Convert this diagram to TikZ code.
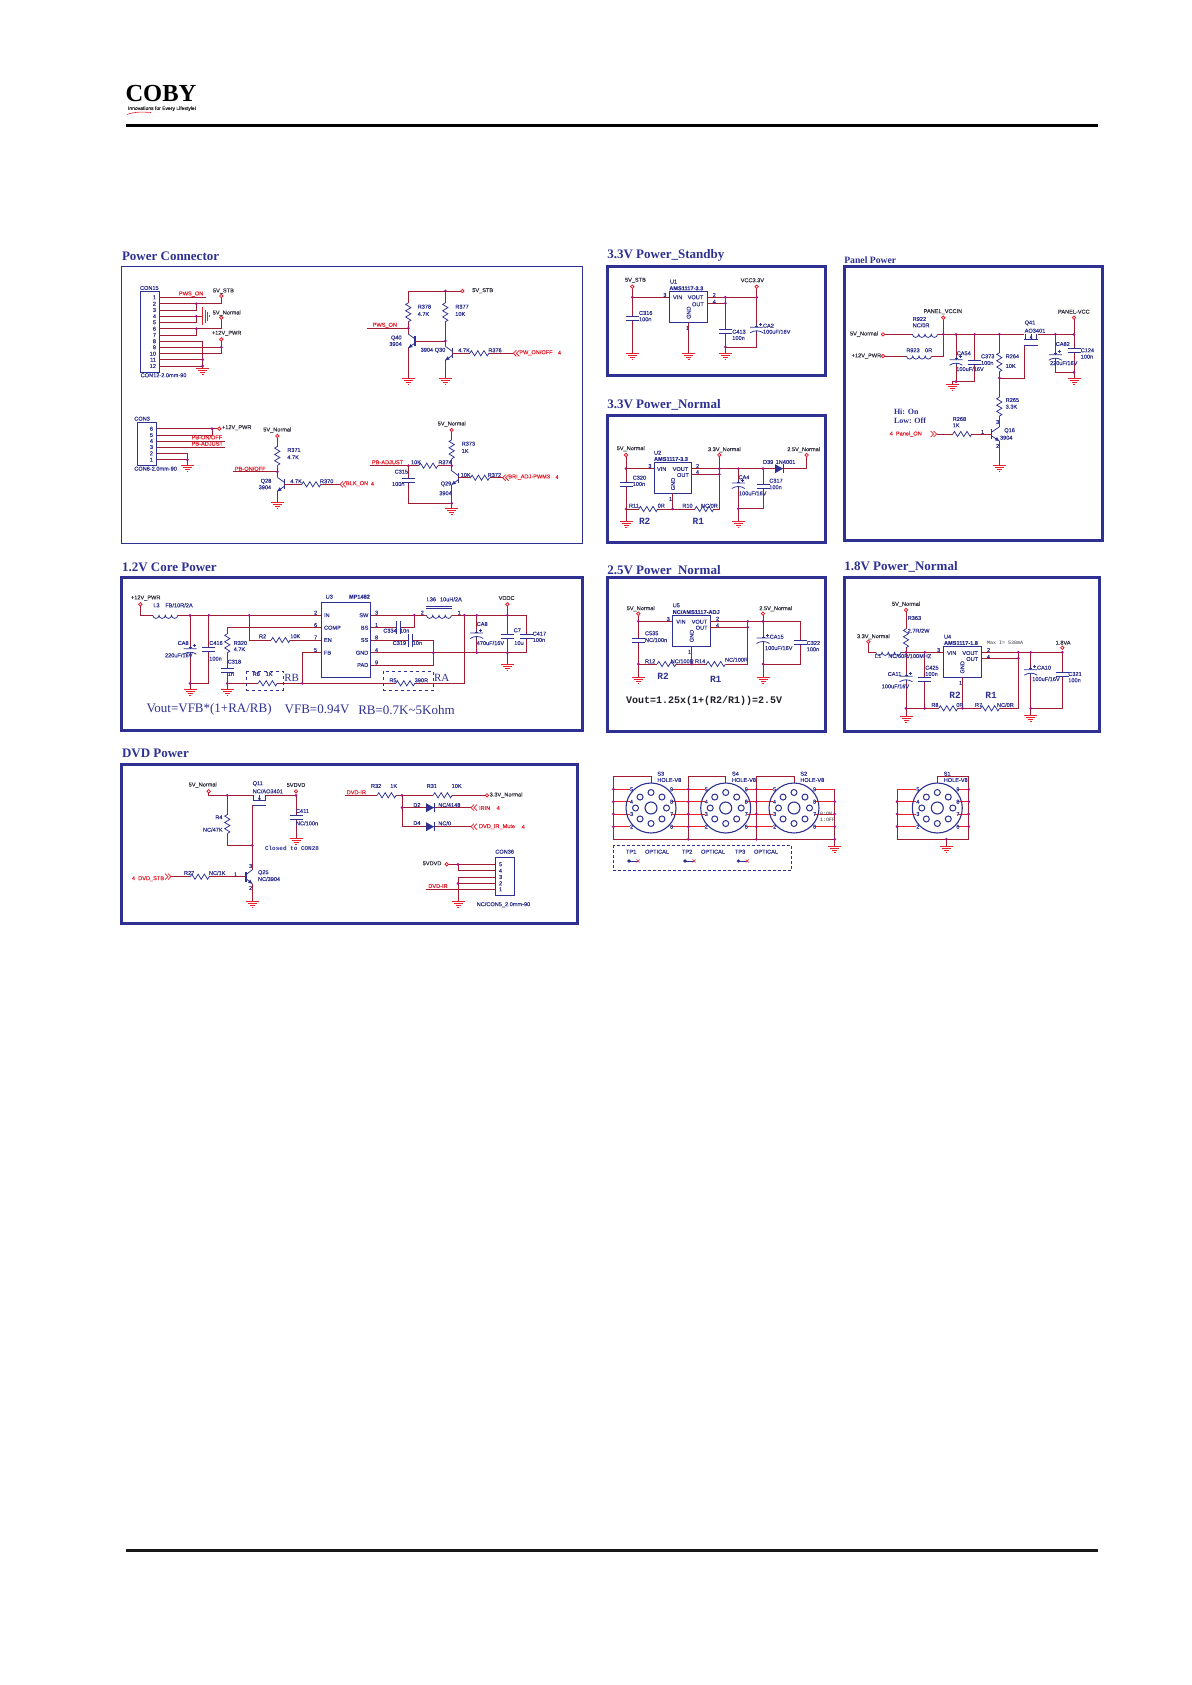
\documentclass[tikz,border=0pt]{standalone}
\usepackage{fontspec}
\usetikzlibrary{calc}
\setmainfont{Liberation Serif}
\setsansfont{Liberation Sans}[FakeBold=0.25]
\setmonofont{Liberation Mono}
\definecolor{wirec}{HTML}{A01C30}
\definecolor{redc}{HTML}{E8202C}
\definecolor{navy}{HTML}{2E3192}
\definecolor{magc}{HTML}{A5108C}
\definecolor{lab}{HTML}{333340}
\newcounter{tn}
\tikzset{
  wire/.style={draw=wirec,line width=.75pt,line join=miter},
  redw/.style={draw=redc,line width=.75pt},
  comp/.style={draw=navy,line width=.75pt},
  frm/.style={draw=navy,line width=3pt},
  txt/.style={anchor=west,inner sep=0pt,outer sep=0pt,font=\sffamily\fontsize{5.6}{6}\selectfont},
}
\newcommand{\TX}[4]{\stepcounter{tn}\node[txt,text=#1] (t\arabic{tn}) at (#2,#3) {#4};}
\newcommand{\Tl}[3]{\TX{lab}{#1}{#2}{#3}}
\newcommand{\Tb}[3]{\TX{navy}{#1}{#2}{#3}}
\newcommand{\Tr}[3]{\TX{redc}{#1}{#2}{#3}}
\newcommand{\Ttl}[3]{\stepcounter{tn}\node[txt,text=navy,font=\bfseries\rmfamily\fontsize{13}{14}\selectfont] (t\arabic{tn}) at (#1,#2) {#3};}
\newcommand{\Tm}[3]{\stepcounter{tn}\node[txt,text=navy,font=\bfseries\ttfamily\fontsize{9.5}{11}\selectfont] (t\arabic{tn}) at (#1,#2) {#3};}
\newcommand{\Ts}[3]{\stepcounter{tn}\node[txt,text=navy,font=\rmfamily\fontsize{11}{12}\selectfont] (t\arabic{tn}) at (#1,#2) {#3};}
\newcommand{\W}[1]{\draw[wire] #1;}
\newcommand{\Jn}[2]{\fill[magc] (#1,#2) circle (1.5);}
\newcommand{\Port}[2]{\draw[draw=redc,fill=white,line width=.8pt] (#1,#2) circle (1.7);}
\newcommand{\Gnd}[2]{\draw[redw] (#1-6.5,#2) -- (#1+6.5,#2) (#1-4.5,#2+2) -- (#1+4.5,#2+2) (#1-2.5,#2+4) -- (#1+2.5,#2+4) (#1-.8,#2+6) -- (#1+.8,#2+6);}
\newcommand{\Hres}[2]{\fill[white] (#1-9.5,#2-1) rectangle (#1+9.5,#2+1);\draw[comp] (#1-9.5,#2) -- ++(1.6,-2.6) -- ++(3.2,5.2) -- ++(3.2,-5.2) -- ++(3,5.2) -- ++(3.2,-5.2) -- ++(3.2,5.2) -- (#1+9.5,#2);}
\newcommand{\Vres}[2]{\fill[white] (#1-1,#2-9.5) rectangle (#1+1,#2+9.5);\draw[comp] (#1,#2-9.5) -- ++(-2.6,1.6) -- ++(5.2,3.2) -- ++(-5.2,3.2) -- ++(5.2,3) -- ++(-5.2,3.2) -- ++(5.2,3.2) -- (#1,#2+9.5);}
\newcommand{\Hind}[2]{\fill[white] (#1-12.5,#2-1) rectangle (#1+12.5,#2+1);\draw[comp] (#1-12.5,#2) arc[start angle=180,end angle=0,radius=3.125] arc[start angle=180,end angle=0,radius=3.125] arc[start angle=180,end angle=0,radius=3.125] arc[start angle=180,end angle=0,radius=3.125];}
\newcommand{\Vcap}[2]{\fill[white] (#1-1,#2-2) rectangle (#1+1,#2+2);\draw[comp] (#1-6.5,#2-2) -- (#1+6.5,#2-2) (#1-6.5,#2+2) -- (#1+6.5,#2+2);}
\newcommand{\Hcap}[2]{\fill[white] (#1-2,#2-1) rectangle (#1+2,#2+1);\draw[comp] (#1-2,#2-6.5) -- (#1-2,#2+6.5) (#1+2,#2-6.5) -- (#1+2,#2+6.5);}
\newcommand{\Pcap}[2]{\fill[white] (#1-1,#2-2) rectangle (#1+1,#2+2);\draw[comp] (#1-6.5,#2-2) -- (#1+6.5,#2-2) (#1-6.5,#2+3.5) .. controls (#1-2.5,#2+.8) and (#1+2.5,#2+.8) .. (#1+6.5,#2+3.5);\draw[comp,line width=1.1pt] (#1-1.5,#2-2.8) -- (#1+1.5,#2-2.8);\draw[comp] (#1,#2-5) -- (#1,#2-2) (#1,#2+1.5)--(#1,#2+4);\draw[comp,line width=.5pt] (#1+2.5,#2-5) -- (#1+5.5,#2-5) (#1+4,#2-6.5) -- (#1+4,#2-3.5);}
% npn: bar x, y, wire x
\newcommand{\Npn}[3]{\draw[comp,line width=1.2pt] (#1,#2-5) -- (#1,#2+5);\draw[comp] (#1,#2-2) -- (#3,#2-7) (#1,#2+2) -- (#3,#2+7);\fill[navy] (#3,#2+7) -- ($(#3,#2+7)!4.5pt!25:(#1,#2+2)$) -- ($(#3,#2+7)!4.5pt!-25:(#1,#2+2)$) -- cycle;}
\newcommand{\Dio}[2]{\fill[navy] (#1-4,#2-4.5) -- (#1+4,#2) -- (#1-4,#2+4.5) -- cycle;\draw[comp] (#1+4,#2-4.5) -- (#1+4,#2+4.5);}
\newcommand{\ChL}[2]{\draw[redw] (#1+3,#2-3) -- (#1,#2) -- (#1+3,#2+3) (#1+6,#2-3) -- (#1+3,#2) -- (#1+6,#2+3);}
\newcommand{\ChR}[2]{\draw[redw] (#1-3,#2-3) -- (#1,#2) -- (#1-3,#2+3) (#1-6,#2-3) -- (#1-3,#2) -- (#1-6,#2+3);}
\newcommand{\Fet}[4]{\draw[comp,line width=1pt] (#1,#4) -- (#2,#4) (#1,#3+5.5) -- (#2,#3+5.5);\draw[comp] (#1+1,#3) -- (#1+1,#3+5.5) (#2-1,#3) -- (#2-1,#3+5.5) ({(#1+#2)/2},#3) -- ({(#1+#2)/2},#3+5.5);\fill[navy] ({(#1+#2)/2},#3+1) -- ++(-1.5,3) -- ++(3,0) -- cycle;}
\newcommand{\Disc}[1]{\draw[comp,line width=1.1pt] (#1,808) circle (25);\draw[comp,line width=1.1pt] (#1,808) circle (6);\foreach \a in {0,45,...,315}{\draw[comp,line width=1pt] ($(#1,808)+(\a:15.5)$) circle (3);}}
\begin{document}
\begin{tikzpicture}[x=1pt,y=-1pt]
\useasboundingbox (0,0) rectangle (1191,1685);
\fill[white] (0,0) rectangle (1191,1685);
% header
\node[txt,text=black,font=\bfseries\rmfamily\fontsize{24.5}{24}\selectfont] (logo) at (125.5,93.5) {COBY};
\node[txt,text=black!85,font=\sffamily\fontsize{5}{5}\selectfont] (tag) at (128,108.7) {Innovations for Every Lifestyle!};
\draw[redc,line width=.6pt] (127,114.5) .. controls (135,111.5) and (143,112) .. (151,112.5);
\draw[black,line width=3pt] (126,126) -- (1098,126);
\draw[black!90,line width=3pt] (126,1550.3) -- (1098,1550.3);
% ==================== Power connector
\Ttl{122}{256}{Power Connector}
\draw[navy,line width=1pt] (121.3,266.7) rectangle (582.7,543);
\draw[comp] (140.7,291.7) rectangle (159.3,372.3);
\Tb{140}{288}{CON15}
\foreach \n/\y in {1/297.3,2/303.7,3/310,4/316.3,5/322.3,6/328.7,7/335,8/341.3,9/347.3,10/353.7,11/359.7,12/366}{\stepcounter{tn}\node[txt,anchor=east,text=navy] (t\arabic{tn}) at (156,\y) {\n};}
\W{(159.3,297.3)--(206,297.3)}
\W{(159.3,303.7)--(221.3,303.7)--(221.3,296)}
\W{(159.3,310)--(196.3,310)--(196.3,303.7)}
\W{(159.3,316.3)--(202.7,316.3)}
\W{(159.3,322.3)--(196.3,322.3)--(196.3,316.3)}
\W{(159.3,328.7)--(221.3,328.7)--(221.3,317.7)}
\W{(159.3,335)--(196.3,335)--(196.3,328.7)}
\W{(159.3,341.3)--(202.7,341.3)--(202.7,368.7)}
\W{(159.3,347.3)--(221.3,347.3)--(221.3,339.3)}
\W{(159.3,353.7)--(221.3,353.7)--(221.3,347.3)}
\W{(159.3,359.7)--(202.7,359.7)}
\W{(159.3,366)--(202.7,366)}
\draw[redw] (202.7,307.5)--(202.7,325) (205.2,310)--(205.2,322.5) (207.5,312)--(207.5,320.5) (209.5,315)--(209.5,317.5);
\Port{221.3}{296}\Port{221.3}{317.7}\Port{221.3}{339.3}
\Jn{196.3}{303.7}\Jn{196.3}{316.3}\Jn{196.3}{328.7}\Jn{221.3}{347.3}\Jn{202.7}{359.7}\Jn{202.7}{366}
\Gnd{202.7}{368.7}
\Tr{179}{294}{PWS\_ON}
\Tl{213}{291}{5V\_STB}\Tl{212.7}{313}{5V\_Normal}\Tl{212}{333.3}{+12V\_PWR}
\Tb{140.7}{375.3}{CON12-2.0mm-90}
% Q40 Q30
\W{(408.3,291)--(462.3,291)}\Port{462.3}{291}\Jn{445.3}{291}
\W{(408.3,291)--(408.3,334)}\W{(408.3,348)--(408.3,378.3)}
\W{(445.3,291)--(445.3,346.3)}\W{(445.3,360.3)--(445.3,378.3)}
\Vres{408.3}{312.3}\Vres{445.3}{312.3}
\W{(367.3,328.3)--(408.3,328.3)}\Jn{408.3}{328.3}
\Npn{415}{341}{408.3}
\W{(415,341)--(445.3,341)}\Jn{445.3}{341}
\Npn{452.3}{353.3}{445.3}
\W{(452.3,353.3)--(513.3,353.3)}\Hres{479.3}{353.3}\ChL{513.3}{353.3}
\Gnd{408.3}{378.3}\Gnd{445.3}{378.3}
\Tl{472.3}{290.7}{5V\_STB}
\Tb{417.7}{306.7}{R378}\Tb{417.7}{314}{4.7K}\Tb{455.3}{306.7}{R377}\Tb{455.3}{314}{10K}
\Tr{372.7}{325.3}{PWS\_ON}
\Tb{391}{338}{Q40}\Tb{389.3}{344}{3904}\Tb{420.7}{350.3}{3904 Q30}
\Tb{458.3}{350.3}{4.7K}\Tb{488.3}{350.3}{R376}
\Tr{519.3}{352.7}{PW\_ON/OFF}\Tr{558}{352.7}{4}
% CON3
\draw[comp] (137.3,422.3) rectangle (156.7,465.3);
\Tb{134.3}{418.7}{CON3}
\foreach \n/\y in {6/428.7,5/435,4/441,3/447,2/453.3,1/459.7}{\stepcounter{tn}\node[txt,anchor=east,text=navy] (t\arabic{tn}) at (153,\y) {\n};}
\W{(156.7,428.7)--(219.3,428.7)}\W{(156.7,435)--(212,435)--(212,428.7)}
\W{(156.7,441)--(225,441)}\W{(156.7,447)--(225,447)}
\W{(156.7,453.3)--(187.3,453.3)--(187.3,465.3)}\W{(156.7,459.7)--(187.3,459.7)}
\Jn{212}{428.7}\Jn{187.3}{459.7}\Port{219.3}{428.7}\Gnd{187.3}{465.3}
\Tl{222}{427.7}{+12V\_PWR}\Tr{191.7}{437.3}{PB-ON/OFF}\Tr{191.7}{443.7}{PB-ADJUST}
\Tb{134.3}{468.7}{CON6-2.0mm-90}
% Q28
\W{(277.3,436)--(277.3,477.3)}\W{(277.3,491.3)--(277.3,502.7)}\Vres{277.3}{456}\Port{277.3}{436}
\W{(233.3,471.7)--(277.3,471.7)}\Jn{277.3}{471.7}
\Npn{284.3}{484.3}{277.3}
\W{(284.3,484.3)--(340,484.3)}\Hres{311.3}{484.3}\ChL{340}{484.3}\Gnd{277.3}{502.7}
\Tl{263.3}{430}{5V\_Normal}\Tb{287.3}{450}{R371}\Tb{287.3}{457.3}{4.7K}
\Tr{235}{468.7}{PB-ON/OFF}\Tb{260.7}{481.3}{Q28}\Tb{258.7}{487.3}{3904}
\Tb{290.3}{481.3}{4.7K}\Tb{320}{481.3}{R370}\Tr{346}{483.7}{BLK\_ON}\Tr{371}{483.7}{4}
% Q29
\W{(451.7,430)--(451.7,470.7)}\W{(451.7,484.7)--(451.7,508.7)}\Vres{451.7}{449.3}\Port{451.7}{430}
\W{(370.3,465.7)--(451.7,465.7)}\Hres{428.3}{465.7}\Jn{408.3}{465.7}\Jn{451.7}{465.7}
\W{(408.3,465.7)--(408.3,503.3)--(451.7,503.3)}\Vcap{408.3}{480}\Jn{451.7}{503.3}
\Npn{458.3}{477.7}{451.7}
\W{(458.3,477.7)--(502.7,477.7)}\Hres{480}{477.7}\ChL{502.7}{477.7}\Gnd{451.7}{508.7}
\Tl{437.7}{424}{5V\_Normal}\Tb{461.7}{443.7}{R373}\Tb{461.7}{451}{1K}
\Tr{372}{462.3}{PB-ADJUST}\Tb{411}{462.3}{10K}\Tb{438.3}{462.3}{R374}
\Tb{394.7}{471.7}{C315}\Tb{392}{484}{100n}\Tb{460.7}{475}{10K}\Tb{487.7}{475}{R372}
\Tb{440.7}{484}{Q29}\Tb{439.3}{493.3}{3904}\Tr{508.3}{477}{BRI\_ADJ-PWM3}\Tr{555.5}{477}{4}
% ==================== 3.3V standby
\Ttl{607.3}{255.7}{3.3V Power\_Standby}
\draw[frm] (607.5,266.5) rectangle (825.5,375.3);
\W{(632.3,286.7)--(632.3,353.3)}\Vcap{632.3}{318}\Port{632.3}{286.7}\Jn{632.3}{297.3}\Gnd{632.3}{353.3}
\W{(632.3,297.3)--(669.3,297.3)}
\draw[comp] (669.3,291.7) rectangle (707.7,322.7);
\W{(688.7,322.7)--(688.7,353.3)}\Gnd{688.7}{353.3}
\W{(707.7,297.3)--(756.7,297.3)}\W{(707.7,303.3)--(725.3,303.3)}
\W{(725.3,297.3)--(725.3,353.3)}\Vcap{725.3}{331.7}\Gnd{725.3}{353.3}
\W{(725.3,347)--(756.7,347)--(756.7,286.7)}\Pcap{756.7}{329.3}
\Jn{725.3}{297.3}\Jn{725.3}{303.3}\Jn{756.7}{297.3}\Jn{725.3}{347}\Port{756.7}{286.7}
\Tl{625}{280.3}{5V\_STB}\Tb{639}{313}{C316}\Tb{639}{319.3}{100n}\Tb{663.3}{295}{3}
\Tb{670}{281.7}{U1}\TX{navy}{669.3}{288.3}{\bfseries AMS1117-3.3}
\Tb{673}{297.3}{VIN}\Tb{687.7}{297.3}{VOUT}\Tb{692}{304.3}{OUT}
\stepcounter{tn}\node[txt,anchor=center,rotate=90,text=navy] (t\arabic{tn}) at (688.7,312.7) {GND};
\Tb{686}{328}{1}\Tb{712.7}{295}{2}\Tb{712.7}{301.7}{4}
\Tl{740.7}{280.3}{VCC3.3V}\Tb{732.3}{331.7}{C413}\Tb{732.3}{338}{100n}
\Tb{763}{325.7}{CA2}\Tb{763}{331.7}{100uF/16V}
% ==================== 3.3V normal
\Ttl{607.3}{405}{3.3V Power\_Normal}
\draw[frm] (607.5,415.5) rectangle (825.5,542.5);
\W{(626,455)--(626,521.7)}\Vcap{626}{484}\Port{626}{455}\Jn{626}{468.7}\Jn{626}{509}\Gnd{626}{521.7}
\W{(626,468.7)--(654.3,468.7)}
\draw[comp] (654.3,462.7) rectangle (691.7,493.3);
\W{(672.7,493.3)--(672.7,509)}
\W{(626,509)--(719.3,509)--(719.3,455)}\Hres{648.3}{509}\Hres{704.3}{509}\Jn{672.7}{509}
\W{(691.7,468.7)--(806.7,468.7)--(806.7,455)}\W{(691.7,474.3)--(719.3,474.3)}
\W{(738.3,468.7)--(738.3,521.7)}\Pcap{738.3}{485}
\W{(763,468.7)--(763,508.7)--(738.3,508.7)}\Vcap{763}{486.7}
\Dio{779}{468.7}
\Jn{719.3}{468.7}\Jn{719.3}{474.3}\Jn{738.3}{468.7}\Jn{763}{468.7}\Jn{738.3}{508.7}
\Port{719.3}{455}\Port{806.7}{455}\Gnd{738.3}{521.7}
\Tl{616.7}{448.7}{5V\_Normal}\Tb{632.7}{477.7}{C320}\Tb{632.7}{484}{100n}
\Tb{629}{505.7}{R11}\Tb{657.7}{505.7}{0R}\Tb{682.3}{505.7}{R10}\Tb{701}{505.7}{NC/0R}
\Tb{648.3}{466}{3}\Tb{654}{452.7}{U2}\TX{navy}{654}{459}{\bfseries AMS1117-3.3}
\Tb{657}{469}{VIN}\Tb{672.7}{469}{VOUT}\Tb{677}{475}{OUT}
\stepcounter{tn}\node[txt,anchor=center,rotate=90,text=navy] (t\arabic{tn}) at (673,484) {GND};
\Tb{669}{499}{1}\Tb{696}{466}{2}\Tb{696}{472}{4}
\Tl{708}{449.7}{3.3V\_Normal}\Tl{787.3}{449.7}{2.5V\_Normal}
\Tb{763}{462}{D39}\Tb{775.7}{462}{1N4001}
\Tb{738.5}{477.3}{CA4}\Tb{739}{493.3}{100uF/16V}\Tb{769.3}{480.7}{C317}\Tb{769.3}{487.3}{100n}
\Tm{639}{521}{R2}\Tm{692.7}{521}{R1}
% ==================== Panel power
\stepcounter{tn}\node[txt,text=navy,font=\bfseries\rmfamily\fontsize{9.7}{10}\selectfont] (t\arabic{tn}) at (844.3,260) {Panel Power};
\draw[frm] (844.5,266.5) rectangle (1102.5,540);
\W{(883,334.3)--(1024.3,334.3)}\W{(1037.7,334.3)--(1074,334.3)--(1074,317.7)}
\W{(883,356)--(943.3,356)--(943.3,317.7)}
\Hind{925}{334.3}\Hind{919}{356}
\W{(956,334.3)--(956,381.7)}\Pcap{956}{361.7}
\W{(974.7,334.3)--(974.7,381.7)--(952.3,381.7)--(952.3,384)}\Vcap{974.7}{362.7}\Gnd{952.3}{384}
\W{(999.3,334.3)--(999.3,426.7)}\Vres{999.3}{362.3}\Vres{999.3}{406.7}
\W{(999.3,378)--(1024.3,378)--(1024.3,345)}\Fet{1024.3}{1037.7}{334.3}{345}
\Npn{991.7}{434}{999.3}
\W{(999.3,441)--(999.3,465.7)}\Gnd{999.3}{465.7}
\W{(936.7,434)--(991.7,434)}\Hres{962.3}{434}\ChR{936.7}{434}
\W{(1055.3,334.3)--(1055.3,372.3)--(1074,372.3)}\Pcap{1055.3}{356.7}
\W{(1074,334.3)--(1074,378.3)}\Vcap{1074}{350}\Gnd{1074}{378.3}
\foreach \x in {943.3,956,974.7,999.3,1055.3,1074}{\Jn{\x}{334.3}}
\Jn{956}{381.7}\Jn{999.3}{378}\Jn{1074}{372.3}
\Port{883}{334.3}\Port{883}{356}\Port{943.3}{317.7}\Port{1074}{317.7}
\Tl{923.7}{311.7}{PANEL\_VCCIN}\Tl{1058}{311.7}{PANEL-VCC}
\Tl{850}{334}{5V\_Normal}\Tl{851.7}{356}{+12V\_PWR}
\Tb{912.7}{319}{R922}\Tb{912.7}{325.3}{NC/0R}\Tb{906.3}{350.3}{R923}\Tb{925}{350.3}{0R}
\Tb{956.7}{353.3}{CA54}\Tb{956.3}{369}{100uF/16V}\Tb{981}{356.3}{C373}\Tb{981}{363}{100n}
\Tb{1005.7}{356.3}{R264}\Tb{1005.7}{366}{10K}\Tb{1005.7}{400}{R265}\Tb{1005.7}{406.7}{3.3K}
\Tb{1024.7}{323}{Q41}\Tb{1024.7}{330.7}{AO3401}
\Tb{952.7}{419}{R268}\Tb{952.7}{425.3}{1K}\Tb{981}{432}{1}\Tb{1004.3}{430.7}{Q16}\Tb{1000}{437.7}{3904}
\Tb{996}{422}{3}\Tb{996}{446}{2}
\Tb{1055.7}{344}{CA82}\Tb{1050}{363}{220uF/16V}\Tb{1080.7}{350.3}{C124}\Tb{1080.7}{356.7}{100n}
\Tr{889.7}{434}{4\ \ Panel\_ON}
\stepcounter{tn}\node[txt,text=navy,font=\bfseries\rmfamily\fontsize{8}{9}\selectfont] (t\arabic{tn}) at (894,411.3) {Hi: On};
\stepcounter{tn}\node[txt,text=navy,font=\bfseries\rmfamily\fontsize{8}{9}\selectfont] (t\arabic{tn}) at (894,420.7) {Low: Off};
% ==================== 1.2V core
\Ttl{122}{567}{1.2V Core Power}
\draw[frm] (121.5,577.5) rectangle (582.5,730.5);
\W{(140.3,604.3)--(140.3,615.3)--(321.3,615.3)}\Hind{165.3}{615.3}
\draw[comp] (321.3,602.3) rectangle (370.7,677.3);
\W{(190,615.3)--(190,689.3)}\Pcap{190}{650.7}\W{(208.7,615.3)--(208.7,683.3)--(190,683.3)}\Vcap{208.7}{649.7}
\W{(321.3,627.7)--(227.3,627.7)--(227.3,689.3)}\Vres{227.3}{643.3}\Vcap{227.3}{670}
\W{(249.3,615.3)--(249.3,640)--(321.3,640)}\Hres{280.7}{640}
\W{(227.3,683.3)--(464.3,683.3)--(464.3,615.3)}\Hres{267.7}{683.3}\Hres{405.3}{683.3}
\W{(302.3,683.3)--(302.3,652.7)--(321.3,652.7)}
\draw[navy,line width=.8pt,dashed] (246.7,671.3) rectangle (283.3,690);
\draw[navy,line width=.8pt,dashed] (383.3,671.3) rectangle (433.3,690);
\W{(370.7,615.3)--(526.3,615.3)--(526.3,652.7)--(370.7,652.7)}\Hind{439}{615.3}
\draw[comp,line width=1pt] (426,606.5)--(452,606.5) (426,608.3)--(452,608.3);
\W{(370.7,627.7)--(414.3,627.7)--(414.3,615.3)}\Hcap{398.3}{627.7}
\W{(370.7,640)--(433.3,640)--(433.3,665)--(370.7,665)}\Hcap{410}{640}
\W{(476.7,615.3)--(476.7,652.7)}\Pcap{476.7}{635}
\W{(507.3,604.3)--(507.3,664.3)}\Vcap{507.3}{636}\Gnd{507.3}{664.3}
\Vcap{526.3}{636}
\foreach \a/\b in {190/615.3,208.7/615.3,249.3/615.3,190/683.3,227.3/683.3,302.3/683.3,414.3/615.3,464.3/615.3,476.7/615.3,507.3/615.3,433.3/652.7,476.7/652.7,507.3/652.7}{\Jn{\a}{\b}}
\Port{140.3}{604.3}\Port{507.3}{604.3}\Gnd{190}{689.3}\Gnd{227.3}{689.3}
\Tl{131}{598}{+12V\_PWR}\Tb{153.3}{605.3}{L3}\Tb{165.3}{605.3}{FB/10R/2A}
\Tb{325.7}{596.7}{U3}\TX{navy}{349}{596.7}{\bfseries MP1482}
\Tb{324}{615.3}{IN}\Tb{324}{627.7}{COMP}\Tb{324}{640}{EN}\Tb{324}{652.7}{FB}
\foreach \s/\y in {SW/615.3,BS/627.7,SS/640,GND/652.7,PAD/665}{\stepcounter{tn}\node[txt,anchor=east,text=navy] (t\arabic{tn}) at (368.3,\y) {\s};}
\Tb{314}{612.7}{2}\Tb{314}{625}{6}\Tb{314}{637.5}{7}\Tb{314}{650}{5}
\Tb{375}{612.7}{3}\Tb{375}{625}{1}\Tb{375}{637.5}{8}\Tb{375}{650}{4}\Tb{375}{662.5}{9}
\Tb{177.7}{643}{CA8}\Tb{165}{655.3}{220uF/16V}\Tb{209.3}{643}{C416}\Tb{209.3}{658.7}{100n}
\Tb{233.7}{643}{R320}\Tb{233.7}{649.3}{4.7K}\Tb{227.7}{661.7}{C318}\Tb{227.7}{674}{1n}
\Tb{259}{636.3}{R2}\Tb{290.3}{636.3}{10K}\Tb{252.7}{674}{R8}\Tb{265.7}{674}{1K}
\Tb{389.3}{680.3}{R5}\Tb{414.7}{680.3}{390R}
\Ts{284.3}{677.7}{RB}\Ts{434}{677.7}{RA}
\Tb{420.7}{612.7}{2}\Tb{457.7}{612.7}{1}\Tb{426.7}{599.3}{L36}\Tb{440}{599.3}{10uH/2A}
\Tb{383.3}{630.7}{C334}\Tb{400}{630.7}{10n}\Tb{392.7}{643}{C319}\Tb{412.7}{643}{10n}
\Tb{476.7}{624}{CA8}\Tb{476.7}{643}{470uF/16V}\Tb{513.7}{630.3}{C7}\Tb{514.3}{643}{10u}
\Tb{532.7}{633.7}{C417}\Tb{532.7}{640}{100n}\Tl{498.7}{598}{VDDC}
\stepcounter{tn}\node[txt,text=navy,font=\rmfamily\fontsize{13}{14}\selectfont] (t\arabic{tn}) at (146.7,709.7) {Vout=VFB*(1+RA/RB)};
\stepcounter{tn}\node[txt,text=navy,font=\rmfamily\fontsize{13}{14}\selectfont] (t\arabic{tn}) at (284.7,709.7) {VFB=0.94V};
\stepcounter{tn}\node[txt,text=navy,font=\rmfamily\fontsize{13}{14}\selectfont] (t\arabic{tn}) at (358.3,709.7) {RB=0.7K\textasciitilde 5Kohm};
% ==================== DVD
\Ttl{122}{753.3}{DVD Power}
\draw[frm] (121.5,764.5) rectangle (577.5,923);
\W{(208.7,791.3)--(208.7,795.3)--(252.7,795.3)}\W{(266,795.3)--(296,795.3)--(296,838.7)}\Fet{252.7}{266}{795.3}{805}
\W{(252.3,805)--(252.3,870)}\W{(227.3,795.3)--(227.3,845.3)--(252.3,845.3)}\Vres{227.3}{824}
\Vcap{296}{817.3}\Npn{246}{876.7}{252.3}
\W{(252.3,883.7)--(252.3,901)}\Gnd{252.3}{901}\Gnd{296}{838.7}
\W{(171,876.7)--(246,876.7)}\Hres{199.7}{876.7}\ChR{171}{876.7}
\Jn{227.3}{795.3}\Jn{252.3}{845.3}\Jn{296}{795.3}\Port{208.7}{791.3}\Port{296}{791.3}
\Tl{188.7}{785}{5V\_Normal}\Tb{252.7}{783.7}{Q11}\Tb{252.7}{791.3}{NC/AO3401}\Tl{286.7}{785}{5VDVD}
\Tb{215.3}{817.3}{R4}\Tb{203}{829.7}{NC/47K}\Tb{296}{811}{C411}\Tb{296}{823.3}{NC/100n}
\stepcounter{tn}\node[txt,text=navy,font=\ttfamily\bfseries\fontsize{6}{7}\selectfont] (t\arabic{tn}) at (265,848.7) {Closed to CON28};
\Tb{234}{874.3}{1}\Tb{184}{873}{R27}\Tb{209}{873}{NC/1K}\Tb{258}{872.7}{Q25}\Tb{258}{879}{NC/3904}
\Tb{249}{866}{3}\Tb{249}{888}{2}\Tr{132}{878.7}{4\ \ DVD\_STB}
\W{(345.3,795.3)--(487,795.3)}\Hres{386.7}{795.3}\Hres{442.7}{795.3}
\W{(402,795.3)--(402,826.7)--(471,826.7)}\W{(402,807.7)--(471,807.7)}
\Dio{430}{807.7}\Dio{430}{826.7}\ChL{471}{807.7}\ChL{471}{826.7}
\Jn{402}{795.3}\Jn{402}{807.7}\Port{487}{795.3}
\Tr{346.7}{792.3}{DVD-IR}\Tb{371}{786}{R32}\Tb{390.3}{786}{1K}\Tb{426.7}{786}{R31}\Tb{451.7}{786}{10K}\Tl{489.7}{795}{3.3V\_Normal}
\Tb{413.3}{805}{D2}\Tb{438.3}{805}{NC/4148}\Tr{479}{808}{IRIN}\Tr{496.7}{808}{4}
\Tb{413.3}{823}{D4}\Tb{438.3}{823.3}{NC/0}\Tr{479}{826.7}{DVD\_IR\_Mute}\Tr{521.7}{826.7}{4}
\draw[comp] (495.3,857.3) rectangle (514.3,895.3);
\foreach \n/\y in {5/864.3,4/870.7,3/877,2/883.3,1/889.3}{\stepcounter{tn}\node[txt,text=navy] (t\arabic{tn}) at (499,\y) {\n};}
\W{(446.7,864.3)--(495.3,864.3)}\W{(458,864.3)--(458,870.7)--(495.3,870.7)}
\W{(495.3,877)--(458,877)--(458,901)}\W{(458,883.3)--(495.3,883.3)}\W{(426,889.3)--(495.3,889.3)}
\Jn{458}{864.3}\Jn{458}{883.3}\Port{446.7}{864.3}\Gnd{458}{901}
\Tb{495.3}{851.7}{CON36}\Tl{422.7}{863.3}{5VDVD}\Tr{428.3}{886}{DVD-IR}\Tb{476.7}{904.7}{NC/CON5\_2.0mm-90}
% ==================== 2.5V
\Ttl{607.3}{569.7}{2.5V Power\ \ Normal}
\draw[frm] (607.5,577.5) rectangle (825.5,731);
\W{(638.3,613.7)--(638.3,677.7)}\Vcap{638.3}{640}
\W{(638.3,621.3)--(672.7,621.3)}
\draw[comp] (672.7,615.3) rectangle (710.3,646.3);
\W{(691.7,646.3)--(691.7,664)}
\W{(638.3,664)--(747.7,664)--(747.7,621.3)}\Hres{666.7}{664}\Hres{716}{664}
\W{(710.3,621.3)--(800.7,621.3)--(800.7,664)--(763,664)}\W{(710.3,627.3)--(747.7,627.3)}
\W{(763,613.7)--(763,677.7)}\Pcap{763}{640}\Vcap{800.7}{642.7}
\Jn{638.3}{621.3}\Jn{638.3}{664}\Jn{691.7}{664}\Jn{747.7}{621.3}\Jn{747.7}{627.3}\Jn{763}{621.3}\Jn{763}{664}
\Port{638.3}{613.7}\Port{763}{613.7}\Gnd{638.3}{677.7}\Gnd{763}{677.7}
\Tl{626.7}{608.7}{5V\_Normal}\Tb{645}{633.3}{C535}\Tb{645}{640}{NC/100n}
\Tb{672.7}{605.3}{U5}\TX{navy}{672.7}{612}{\bfseries NC/AMS1117-ADJ}
\Tb{676.3}{621.7}{VIN}\Tb{691.7}{621.7}{VOUT}\Tb{695.7}{627.7}{OUT}
\stepcounter{tn}\node[txt,anchor=center,rotate=90,text=navy] (t\arabic{tn}) at (691.7,636) {GND};
\Tb{666.7}{619}{3}\Tb{716}{618.7}{2}\Tb{716}{625.3}{4}\Tb{688}{652}{1}
\Tb{645}{661.3}{R12}\Tb{670.7}{661.3}{NC/100R}\Tb{695}{661.3}{R14}\Tb{725}{659.7}{NC/100R}
\Tl{759.3}{608.7}{2.5V\_Normal}\Tb{769.7}{636.7}{CA15}\Tb{765}{648}{100uF/16V}
\Tb{806.7}{643}{C322}\Tb{806.7}{649.3}{100n}
\Tm{657.3}{676.7}{R2}\Tm{710}{679}{R1}
\stepcounter{tn}\node[txt,text=lab!60!black,font=\ttfamily\bfseries\fontsize{10}{11}\selectfont] (t\arabic{tn}) at (626,701.3) {Vout=1.25x(1+(R2/R1))=2.5V};
% ==================== 1.8V
\Ttl{844.3}{567}{1.8V Power\_Normal}
\draw[frm] (844.5,577.5) rectangle (1099.5,731);
\W{(906,610)--(906,716.7)}\Vres{906}{638.3}\Pcap{906}{678.3}
\W{(868.3,641.7)--(868.3,652.3)--(943.3,652.3)}\Hind{888.3}{652.3}
\draw[comp] (943.3,646.7) rectangle (981,677.3);
\W{(924.7,652.3)--(924.7,708.3)}\Vcap{924.7}{679.3}
\W{(906,708.3)--(1018.3,708.3)--(1018.3,652.3)}\Hres{948.3}{708.3}\Hres{990}{708.3}
\W{(962.3,677.3)--(962.3,708.3)}
\W{(981,652.3)--(1062.3,652.3)--(1062.3,708.3)--(1030.7,708.3)}\W{(981,658.3)--(1018.3,658.3)}
\W{(1030.7,652.3)--(1030.7,715)}\Pcap{1030.7}{671.7}\Vcap{1062.3}{674}
\Jn{906}{652.3}\Jn{924.7}{652.3}\Jn{1018.3}{652.3}\Jn{1018.3}{658.3}\Jn{1030.7}{652.3}\Jn{1062.3}{652.3}
\Jn{906}{708.3}\Jn{924.7}{708.3}\Jn{962.3}{708.3}\Jn{1030.7}{708.3}
\Port{906}{610}\Port{868.3}{641.7}\Port{1062.3}{647.7}\Gnd{906}{716.7}\Gnd{1030.7}{715}
\Tl{892}{604.3}{5V\_Normal}\Tb{907.7}{618}{R363}\Tb{907.7}{630.7}{2.7R/2W}\Tl{857}{636.7}{3.3V\_Normal}
\Tb{875}{656}{L1}\Tb{888.3}{656}{NC/60R/100MHZ}\Tb{937}{650}{3}
\Tb{944}{636.7}{U4}\TX{navy}{944}{643}{\bfseries AMS1117-1.8}
\Tb{947}{653}{VIN}\Tb{962.3}{653}{VOUT}\Tb{966.3}{659}{OUT}
\stepcounter{tn}\node[txt,anchor=center,rotate=90,text=navy] (t\arabic{tn}) at (962.3,667.3) {GND};
\Tb{959}{683}{1}\Tb{987}{650}{2}\Tb{987}{656.7}{4}
\stepcounter{tn}\node[txt,text=lab,font=\ttfamily\fontsize{5}{6}\selectfont] (t\arabic{tn}) at (987,643) {Max I= 530mA};
\Tl{1055.7}{642.7}{1.8VA}\Tb{975}{705}{R7}\Tb{997}{705}{NC/0R}\Tb{931.3}{705}{R8}\Tb{956.3}{705}{0R}
\Tb{925.3}{667.7}{C425}\Tb{925.3}{674}{100n}\Tb{887.7}{674}{CA11}\Tb{881.7}{686.3}{100uF/16V}
\Tb{1037}{667.7}{CA10}\Tb{1032.3}{679}{100uF/16V}\Tb{1068.3}{674}{C321}\Tb{1068.3}{680.3}{100n}
\Tm{949.3}{695}{R2}\Tm{985.3}{695}{R1}
% ==================== Sockets
\W{(613.3,839.3)--(613.3,776.7)--(651,776.7)--(651,783)}
\W{(688.3,839.3)--(688.3,776.7)--(725.7,776.7)--(725.7,783)}
\W{(756.3,839.3)--(756.3,776.7)--(794,776.7)--(794,783)}
\W{(613.3,839.3)--(834.7,839.3)--(834.7,789.3)--(819,789.3)}
\W{(834.7,839.3)--(834.7,846)}\Gnd{834.7}{846}
\foreach \y in {789.3,801.7,814,826.7}{
  \draw[redw] (613.3,\y)--(630,\y) (672,\y)--(688.3,\y) (688.3,\y)--(705,\y) (746.7,\y)--(756.3,\y) (756.3,\y)--(773,\y) (815,\y)--(834.7,\y);
  \Jn{613.3}{\y}\Jn{688.3}{\y}\Jn{756.3}{\y}
}
\foreach \y in {801.7,814,826.7}{\Jn{834.7}{\y}}
\Jn{688.3}{839.3}\Jn{756.3}{839.3}\Jn{834.7}{839.3}
\W{(897,789.3)--(897,839.3)--(968.7,839.3)--(968.7,776.7)--(937.3,776.7)--(937.3,783)}
\W{(946.3,839.3)--(946.3,846)}\Gnd{946.3}{846}\Jn{946.3}{839.3}
\foreach \y in {789.3,801.7,814,826.7}{\draw[redw] (897,\y)--(916,\y) (958,\y)--(968.7,\y);\Jn{968.7}{\y}}
\foreach \y in {801.7,814,826.7}{\Jn{897}{\y}}
\foreach \c in {651,725.7,794,937.3}{
  \Disc{\c}
  \foreach \n/\dx/\y in {5/-21/789.3,4/-21/801.7,3/-21/814,2/-21/826.7,9/19/789.3,8/19/801.7,7/19/814,6/19/826.7}{\stepcounter{tn}\pgfmathsetmacro{\px}{\c+\dx}\node[txt,text=navy] (t\arabic{tn}) at (\px,\y) {\n};}
}
\Tb{657.3}{773.7}{S3}\Tb{657.3}{780}{HOLE-V8}\Tb{732}{773.7}{S4}\Tb{732}{780}{HOLE-V8}
\Tb{800.3}{773.7}{S2}\Tb{800.3}{780}{HOLE-V8}\Tb{943.7}{773.7}{S1}\Tb{943.7}{780}{HOLE-V8}
\stepcounter{tn}\node[txt,text=lab,font=\ttfamily\fontsize{5}{6}\selectfont] (t\arabic{tn}) at (820,814) {0:ON};
\stepcounter{tn}\node[txt,text=lab,font=\ttfamily\fontsize{5}{6}\selectfont] (t\arabic{tn}) at (820,820) {1:OFF};
\draw[navy,line width=.8pt,dash pattern=on 3pt off 2pt] (613.3,845.3) rectangle (791.7,870.3);
\foreach \a/\l/\o/\tn in {629/626/645/TP1,685/682/701/TP2,738.3/735/754/TP3}{
  \fill[navy] (\a,861) circle (1.8);
  \draw[comp] (\a,861) -- ++(9,0);
  \draw[redw,line width=.5pt] (\a+7.5,859.5) -- ++(3,3) (\a+7.5,862.5) -- ++(3,-3);
  \Tb{\l}{851.7}{\tn}\Tb{\o}{851.7}{OPTICAL}
}
\end{tikzpicture}
\end{document}
